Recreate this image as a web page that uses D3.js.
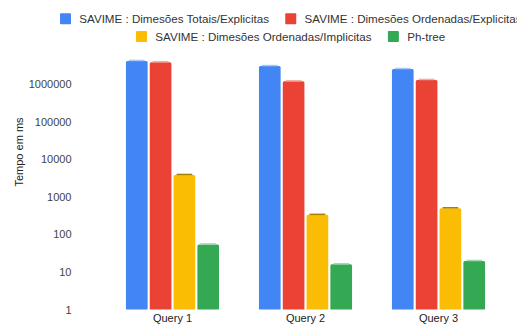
<!DOCTYPE html>
<html>
<head>
<meta charset="utf-8">
<script src="https://cdn.jsdelivr.net/npm/d3@7"></script>
<style>
  html, body { margin: 0; padding: 0; background: #fff; }
  svg { display: block; font-family: "Liberation Sans", Arial, sans-serif; }
</style>
</head>
<body>
<svg id="chart" width="517" height="329"></svg>
<script>
const categories = ["Query 1", "Query 2", "Query 3"];
const seriesNames = [
  "SAVIME : Dimesões Totais/Explicitas",
  "SAVIME : Dimesões Ordenadas/Explicitas",
  "SAVIME : Dimesões Ordenadas/Implicitas",
  "Ph-tree"
];
const totaisExplicitas = [4100000, 3000000, 2500000];
const ordenadasExplicitas = [3800000, 1180000, 1280000];
const ordenadasImplicitas = [3800, 330, 495];
const phTree = [54, 16, 19.5];
const tickValues = [1, 10, 100, 1000, 10000, 100000, 1000000];
const yTitle = "Tempo em ms";

const colors = ["#4285F4", "#EA4335", "#FBBC04", "#34A853"];
const capColors = ["#a9c6fa", "#f5aaa3", "#a88000", "#a3d9b1"];
const seriesValues = [totaisExplicitas, ordenadasExplicitas, ordenadasImplicitas, phTree];

const svg = d3.select("#chart");

const y = d3.scaleLog().domain([1, 1e7]).range([309.5, 46.4]);
const x0 = d3.scaleBand().domain(categories).range([106, 505]).paddingInner(0.3).paddingOuter(0.15);
const x1 = d3.scaleBand().domain(d3.range(seriesNames.length)).range([0, x0.bandwidth()]).paddingInner(0.09);

// Y axis (labels only)
const yAxis = d3.axisLeft(y).tickValues(tickValues).tickFormat(d3.format("d")).tickSize(0).tickPadding(0);
const yg = svg.append("g").attr("transform", "translate(71.5,0)").call(yAxis);
yg.select(".domain").remove();
yg.selectAll("text").attr("font-size", 11).attr("fill", "#444").attr("font-family", "Liberation Sans, Arial, sans-serif");

// X axis labels
const xAxis = d3.axisBottom(x0).tickSize(0).tickPadding(0);
const xg = svg.append("g").attr("transform", "translate(0,314)").call(xAxis);
xg.select(".domain").remove();
xg.selectAll("text").attr("font-size", 11).attr("fill", "#222").attr("font-family", "Liberation Sans, Arial, sans-serif");

// Y title
svg.append("text")
  .attr("transform", "translate(23,152) rotate(-90)")
  .attr("text-anchor", "middle")
  .attr("font-size", 11)
  .attr("fill", "#222")
  .text(yTitle);

// Bars
const groups = svg.append("g").selectAll("g")
  .data(categories)
  .join("g")
  .attr("transform", d => `translate(${x0(d)},0)`);

groups.each(function(cat, ci) {
  const g = d3.select(this);
  seriesValues.forEach((vals, si) => {
    const v = vals[ci];
    const top = y(v);
    const bx = x1(si);
    const bw = x1.bandwidth();
    g.append("path")
      .attr("d", () => {
        const r = 1.5, b = y(1);
        return `M${bx},${b} L${bx},${top + r} Q${bx},${top} ${bx + r},${top} L${bx + bw - r},${top} Q${bx + bw},${top} ${bx + bw},${top + r} L${bx + bw},${b} Z`;
      })
      .attr("fill", colors[si]);
    g.append("line")
      .attr("x1", bx + 3).attr("x2", bx + bw - 3)
      .attr("y1", top - 0.5).attr("y2", top - 0.5)
      .attr("stroke", capColors[si])
      .attr("stroke-width", 1.5);
  });
});

// Legend
const legendRows = [
  { start: 60, y: 13.3, items: [0, 1] },
  { start: 136, y: 31, items: [2, 3] }
];
legendRows.forEach(row => {
  let cx = row.start;
  row.items.forEach(si => {
    svg.append("rect")
      .attr("x", cx).attr("y", row.y)
      .attr("width", 11).attr("height", 11)
      .attr("rx", 1)
      .attr("fill", colors[si]);
    const t = svg.append("text")
      .attr("x", cx + 19.3)
      .attr("y", row.y + 10)
      .attr("font-size", 11.6)
      .attr("fill", "#333")
      .text(seriesNames[si]);
    cx = cx + 19.3 + t.node().getComputedTextLength() + 16.3;
  });
});
</script>
</body>
</html>
